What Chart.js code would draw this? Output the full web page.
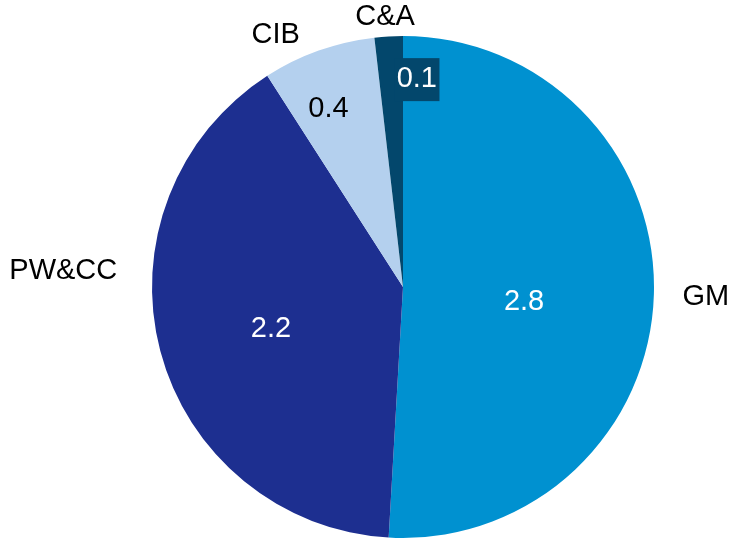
<!DOCTYPE html>
<html>
<head>
<meta charset="utf-8">
<script src="https://cdn.jsdelivr.net/npm/chart.js@4/dist/chart.umd.min.js"></script>
<style>
html,body{margin:0;padding:0;background:#fff;}
canvas{display:block;}
</style>
</head>
<body>
<canvas id="c" width="731" height="542"></canvas>
<script>
const categories = ["GM", "PW&CC", "CIB", "C&A"];
const values = [2.8, 2.2, 0.4, 0.1];
const valueLabels = ["2.8", "2.2", "0.4", "0.1"];
const colors = ["#0091d0", "#1d2f90", "#b4d0ee", "#03476c"];

// label placement styles (relative to slice geometry): [angle (deg, clockwise from top), radius factor]
const namePos = [[91.9, 1.207], [272.7, 1.355], [333.2, 1.125], [356.2, 1.08]];
const valuePos = [[97.1, 0.486], [252.3, 0.552], [337.3, 0.769], [3.8, 0.83]];
const valueColors = ["#ffffff", "#ffffff", "#000000", "#ffffff"];
const valueBoxes = [null, null, null, "#03476c"];

const labelPlugin = {
  id: 'labels',
  afterDatasetsDraw(chart) {
    const ctx = chart.ctx;
    const meta = chart.getDatasetMeta(0);
    ctx.save();
    ctx.font = '29px "Liberation Sans", Arial, sans-serif';
    ctx.textAlign = 'center';
    ctx.textBaseline = 'middle';
    meta.data.forEach((arc, i) => {
      const cx = arc.x, cy = arc.y, r = arc.outerRadius;
      const pt = (a, f) => {
        const rad = a * Math.PI / 180;
        return [cx + Math.sin(rad) * r * f, cy - Math.cos(rad) * r * f];
      };
      const [vx, vy] = pt(valuePos[i][0], valuePos[i][1]);
      if (valueBoxes[i]) {
        const w = ctx.measureText(valueLabels[i]).width + 5;
        ctx.fillStyle = valueBoxes[i];
        ctx.fillRect(vx - w / 2, vy - 21, w, 43);
      }
      ctx.fillStyle = valueColors[i];
      ctx.fillText(valueLabels[i], vx, vy);
      const [nx, ny] = pt(namePos[i][0], namePos[i][1]);
      ctx.fillStyle = '#000000';
      ctx.fillText(categories[i], nx, ny);
    });
    ctx.restore();
  }
};

new Chart(document.getElementById('c'), {
  type: 'pie',
  data: {
    labels: categories,
    datasets: [{
      data: values,
      backgroundColor: colors,
      borderWidth: 0
    }]
  },
  options: {
    responsive: false,
    animation: false,
    layout: { padding: { top: 36, bottom: 4, left: 152, right: 77 } },
    plugins: { legend: { display: false }, tooltip: { enabled: false } }
  },
  plugins: [labelPlugin]
});
</script>
</body>
</html>
